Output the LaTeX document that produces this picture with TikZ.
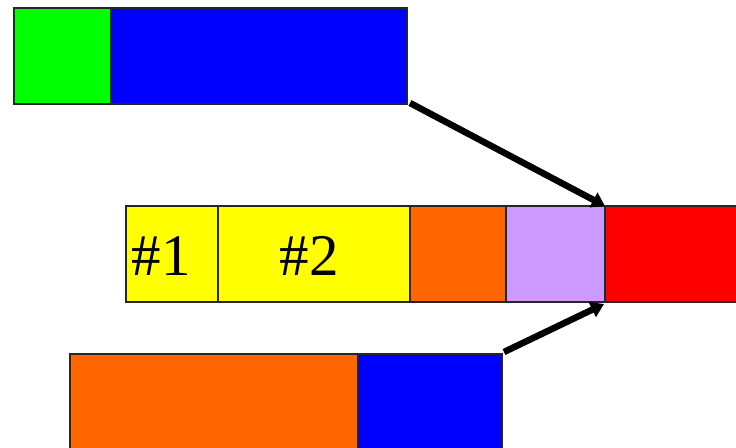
\documentclass[tikz,border=0pt]{standalone}
\usepackage{fontspec}
\setmainfont{Liberation Serif}
\usetikzlibrary{arrows.meta}
\definecolor{cgreen}{HTML}{00FF00}
\definecolor{cblue}{HTML}{0000FF}
\definecolor{cyellow}{HTML}{FFFF00}
\definecolor{corange}{HTML}{FF6600}
\definecolor{clilac}{HTML}{CC99FF}
\definecolor{cred}{HTML}{FF0000}
\begin{document}
\begin{tikzpicture}[x=1pt,y=-1pt,
  blk/.style={draw=black!85, line width=1.3pt, inner sep=0pt, outer sep=0pt, anchor=north west},
  arr/.style={line width=6.5pt, -{Triangle[length=13pt,width=16pt]}},
  lbl/.style={inner sep=0pt, anchor=base, font=\fontsize{59}{60}\selectfont}]
\useasboundingbox (0,0) rectangle (736,447);
\clip (0,0) rectangle (736,447);
% top row
\node[blk, fill=cgreen, minimum width=97pt, minimum height=96pt] (g1) at (14,8) {};
\node[blk, fill=cblue, minimum width=296pt, minimum height=96pt] (b1) at (111,8) {};
% middle row
\node[blk, fill=cyellow, minimum width=92pt, minimum height=96pt] (y1) at (126,206) {};
\node[blk, fill=cyellow, minimum width=192pt, minimum height=96pt] (y2) at (218,206) {};
\node[blk, fill=corange, minimum width=96pt, minimum height=96pt] (o1) at (410,206) {};
\node[blk, fill=clilac, minimum width=99pt, minimum height=96pt] (l1) at (506,206) {};
\node[blk, fill=cred, minimum width=140pt, minimum height=96pt] (r1) at (605,206) {};
\node[lbl] (t1) at (161,275) {\#1};
\node[lbl] (t2) at (309,275) {\#2};
% bottom row
\node[blk, fill=corange, minimum width=288pt, minimum height=100pt] (o2) at (70,354) {};
\node[blk, fill=cblue, minimum width=144pt, minimum height=100pt] (b2) at (358,354) {};
% arrows
\draw[arr] ([shift={(3,-1)}]b1.south east) -- (l1.north east);
\draw[arr] ([shift={(2,-2)}]b2.north east) -- ([shift={(-1,2)}]l1.south east);
\end{tikzpicture}
\end{document}
